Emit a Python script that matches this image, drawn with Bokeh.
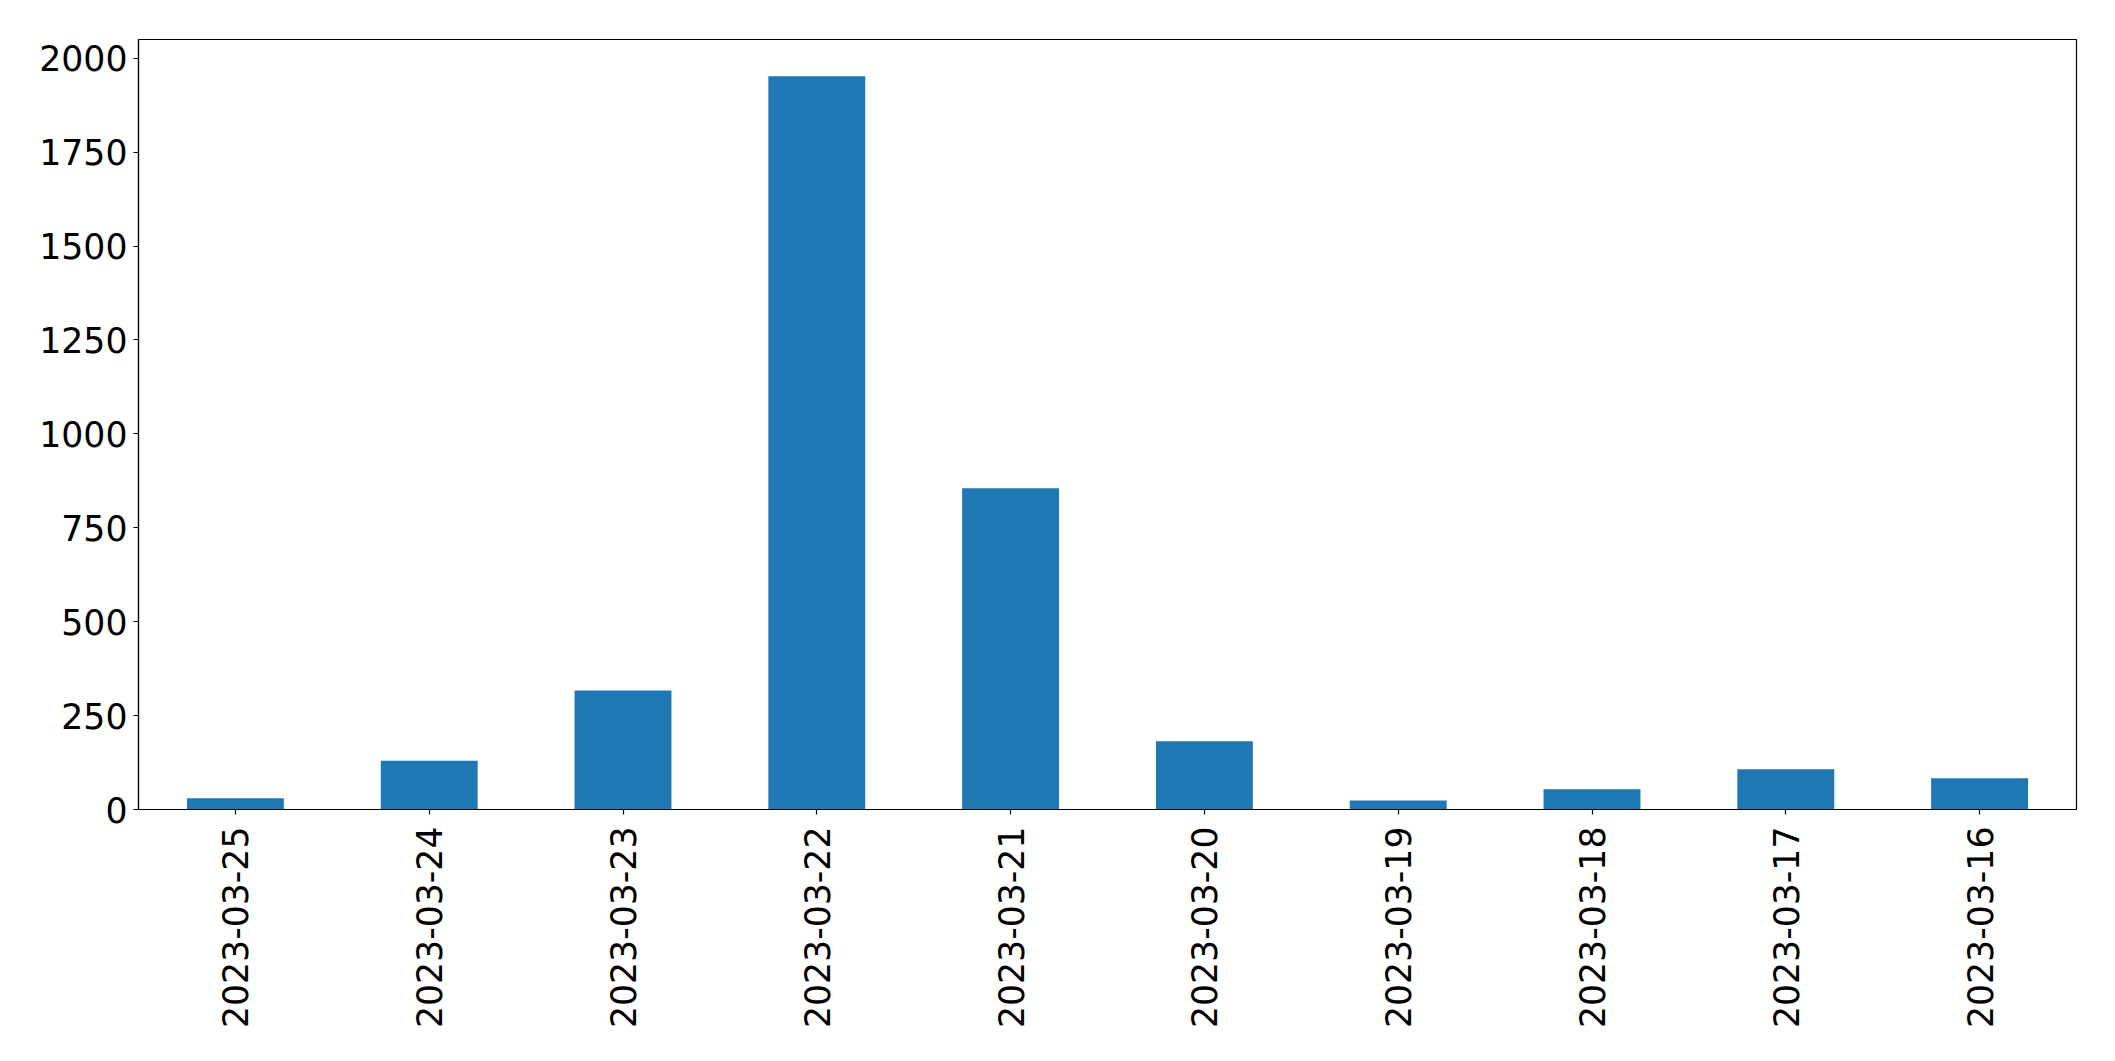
from bokeh.plotting import figure
from bokeh.models import FactorRange, Range1d, SingleIntervalTicker, ColumnDataSource
from bokeh.embed import file_html
from bokeh.resources import INLINE

dates = ["2023-03-25", "2023-03-24", "2023-03-23", "2023-03-22", "2023-03-21",
         "2023-03-20", "2023-03-19", "2023-03-18", "2023-03-17", "2023-03-16"]
counts = [30, 130, 317, 1952, 855, 182, 24, 54, 107, 83]

src = ColumnDataSource(data=dict(dates=dates, counts=counts))

p = figure(x_range=FactorRange(*dates, range_padding=0), y_range=Range1d(0, 2050),
           frame_width=1938, frame_height=770,
           min_border_left=138, min_border_top=39, min_border_right=30, min_border_bottom=236,
           output_backend="svg", toolbar_location=None)

p.vbar(x="dates", top="counts", width=0.5, source=src, color="#1f77b4", line_color=None)

p.xgrid.visible = False
p.ygrid.visible = False
p.outline_line_color = "black"
p.outline_line_width = 1.2

p.yaxis.ticker = SingleIntervalTicker(interval=250)
for ax in (p.xaxis[0], p.yaxis[0]):
    ax.major_label_text_font = "DejaVu Sans"
    ax.major_label_text_font_size = "34.7px"
    ax.major_label_text_color = "black"
    ax.axis_line_color = "black"
    ax.axis_line_width = 1.2
    ax.major_tick_line_color = "black"
    ax.major_tick_line_width = 1.2
    ax.major_tick_out = 5
    ax.major_tick_in = 0
    ax.minor_tick_line_color = None
p.yaxis.major_label_standoff = 6
p.xaxis.major_label_orientation = 1.5707963267948966
p.xaxis.major_label_standoff = 12
p.background_fill_color = "white"
p.border_fill_color = "white"

open("out.html", "w").write(file_html(p, INLINE))
